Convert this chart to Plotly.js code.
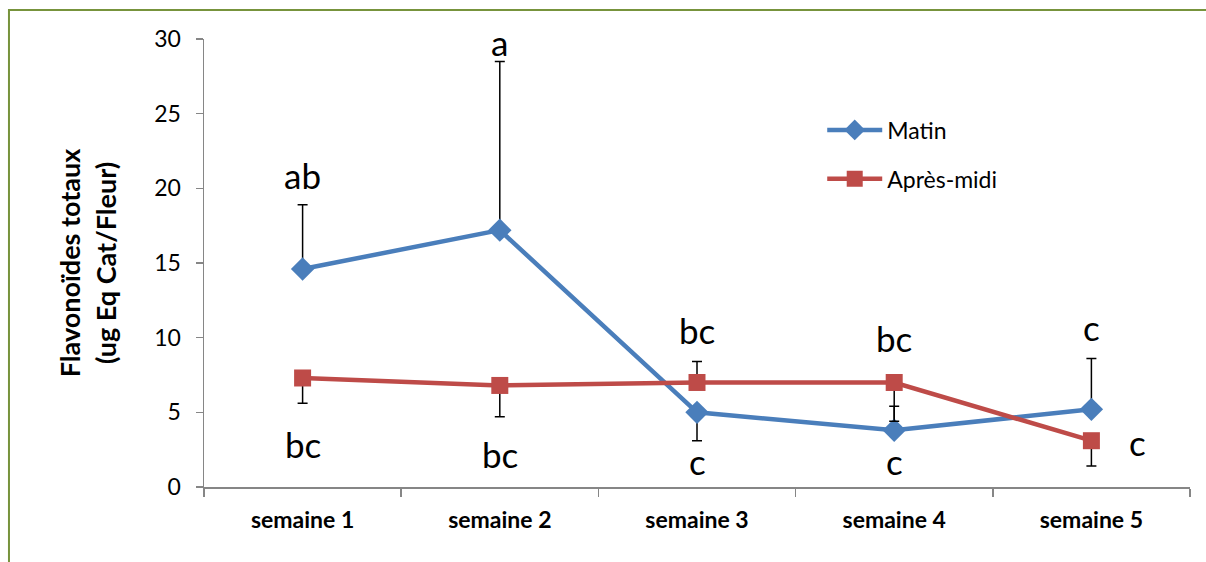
<!DOCTYPE html>
<html>
<head>
<meta charset="utf-8">
<script src="https://cdn.plot.ly/plotly-3.0.1.min.js"></script>
<style>html,body{margin:0;padding:0;background:#fff;}#chart{width:1206px;height:562px;}</style>
</head>
<body>
<div id="chart"></div>
<script>
const categories = ["semaine 1", "semaine 2", "semaine 3", "semaine 4", "semaine 5"];
const matin = [14.6, 17.2, 5.0, 3.8, 5.2];
const matinErrPlus = [4.3, 11.3, 0, 1.6, 3.4];
const matinErrMinus = [0, 0, 1.9, 0, 0];
const apresMidi = [7.3, 6.8, 7.0, 7.0, 3.1];
const apresErrPlus = [0, 0, 1.4, 0, 0];
const apresErrMinus = [1.7, 2.1, 0, 2.6, 1.7];
const lettersTop = ["ab", "a", "bc", "bc", "c"];
const lettersTopY = [20.9, 29.8, 10.5, 10.0, 10.7];
const lettersBottom = ["bc", "bc", "c", "c", "c"];
const lettersBottomY = [2.85, 2.2, 1.75, 1.75, 3.0];
const lettersBottomShift = [0, 0, 0, 0, 46];

const FONT = "Lato, 'Open Sans', sans-serif";

const traces = [
  {
    type: "scatter", mode: "lines+markers", name: "Matin",
    x: categories, y: matin, legendgroup: "m",
    line: {color: "#4A7EBB", width: 4.5},
    marker: {symbol: "diamond", size: 18, color: "#4A7EBB"},
    error_y: {type: "data", symmetric: false, array: matinErrPlus, arrayminus: matinErrMinus,
              color: "#000", thickness: 1.5, width: 5}
  },
  {
    type: "scatter", mode: "lines+markers", name: "Après-midi",
    x: categories, y: apresMidi, legendgroup: "a",
    line: {color: "#BE4B48", width: 4.5},
    marker: {symbol: "square", size: 17, color: "#BE4B48"},
    error_y: {type: "data", symmetric: false, array: apresErrPlus, arrayminus: apresErrMinus,
              color: "#000", thickness: 1.5, width: 5}
  }
];

const annotations = [];
for (let i = 0; i < categories.length; i++) {
  annotations.push({x: categories[i], y: lettersTopY[i], text: lettersTop[i], showarrow: false,
    xref: "x", yref: "y", font: {family: FONT, size: 35, color: "#000"}});
  annotations.push({x: categories[i], y: lettersBottomY[i], text: lettersBottom[i], showarrow: false,
    xref: "x", yref: "y", xshift: lettersBottomShift[i], font: {family: FONT, size: 35, color: "#000"}});
}

const layout = {
  width: 1206, height: 562,
  margin: {l: 204, r: 16, t: 39, b: 75},
  paper_bgcolor: "#fff", plot_bgcolor: "#fff",
  font: {family: FONT, color: "#000"},
  showlegend: true,
  legend: {x: 0.627, y: 0.845, xanchor: "left", yanchor: "top", bgcolor: "rgba(0,0,0,0)",
           font: {family: FONT, size: 23, color: "#000"}, traceorder: "grouped", tracegroupgap: 16,
           itemwidth: 55},
  xaxis: {
    type: "category", range: [-0.5, 4.5], tickson: "boundaries",
    showline: true, linecolor: "#868686", linewidth: 1.5,
    ticks: "outside", ticklen: 8, tickcolor: "#868686", tickwidth: 1.5,
    showgrid: false, zeroline: false, ticklabelstandoff: 12,
    tickfont: {family: FONT, size: 23, color: "#000", weight: "bold"}
  },
  yaxis: {
    range: [0, 30], dtick: 5, tick0: 0,
    showline: true, linecolor: "#868686", linewidth: 1.5,
    ticks: "outside", ticklen: 7, tickcolor: "#868686", tickwidth: 1.5,
    showgrid: false, zeroline: false, ticklabelstandoff: 10,
    tickfont: {family: FONT, size: 23, color: "#000"},
    title: {text: "Flavonoïdes totaux<br>(ug Eq Cat/Fleur)", standoff: 30,
            font: {family: FONT, size: 27, color: "#000", weight: "bold"}}
  },
  annotations: annotations,
  shapes: [
    {type: "rect", xref: "paper", yref: "paper", x0: -0.1978, x1: 1.2, y0: -0.5, y1: 1.0647,
     line: {color: "#77933C", width: 2}, fillcolor: "rgba(0,0,0,0)", layer: "below"}
  ]
};

Plotly.newPlot("chart", traces, layout, {displayModeBar: false, staticPlot: true});
</script>
</body>
</html>
